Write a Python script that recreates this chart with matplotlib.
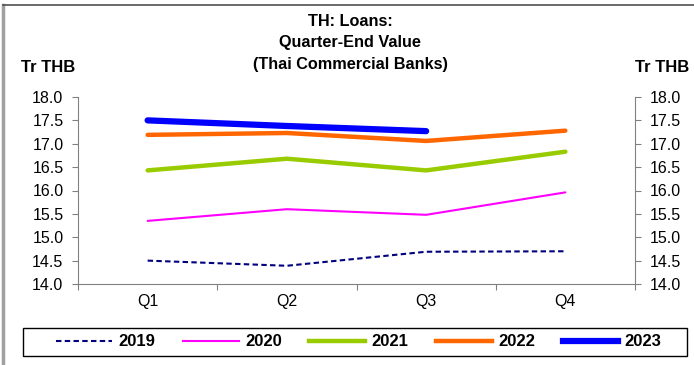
import matplotlib
matplotlib.use("Agg")
import matplotlib.pyplot as plt
from matplotlib.lines import Line2D
from matplotlib.patches import Rectangle
import numpy as np

plt.rcParams['font.family'] = ['Liberation Sans', 'DejaVu Sans']

quarters = ["Q1", "Q2", "Q3", "Q4"]
years = ["2019", "2020", "2021", "2022", "2023"]
v2019 = [14.50, 14.39, 14.69, 14.70]
v2020 = [15.35, 15.60, 15.48, 15.96]
v2021 = [16.43, 16.68, 16.43, 16.83]
v2022 = [17.19, 17.23, 17.06, 17.28]
v2023 = [17.50, 17.38, 17.27]
yticks = [14.0, 14.5, 15.0, 15.5, 16.0, 16.5, 17.0, 17.5, 18.0]

series = [v2019, v2020, v2021, v2022, v2023]
colors = ["#000080", "#FF00FF", "#99CC00", "#FF6600", "#0000FF"]
widths = [1.5, 1.5, 3.2, 3.2, 4.5]
styles = [(0, (2.6, 1.6)), "-", "-", "-", "-"]

W, H = 694, 365
fig = plt.figure(figsize=(W/100, H/100), dpi=100)
ax = fig.add_axes([78/W, 1-284/H, (635-78)/W, (284-97)/H])

for vals, c, w, s, lab in zip(series, colors, widths, styles, years):
    x = np.arange(len(vals)) + 0.5
    ax.plot(x, vals, color=c, lw=w, ls=s, label=lab, solid_capstyle='round',
            dash_capstyle='butt')

ax.set_xlim(0, 4)
ax.set_ylim(14.0, 18.0)
ax.set_yticks(yticks)
ax.set_yticklabels([f"{t:.1f}" for t in yticks], fontsize=11.5)
ax.set_xticks([0, 1, 2, 3, 4])
ax.set_xticklabels([])
ax.set_xticks(np.arange(4) + 0.5, minor=True)
ax.set_xticklabels(quarters, minor=True, fontsize=11.5)
ax.tick_params(axis='x', which='minor', length=0, pad=7)
ax.tick_params(axis='x', which='major', length=4, color='#808080', direction='out')
ax.tick_params(axis='y', length=4.5, color='#808080', direction='out', pad=6)
for sp in ['top', 'right']:
    ax.spines[sp].set_visible(False)
for sp in ['left', 'bottom']:
    ax.spines[sp].set_color('#808080')

ax2 = ax.twinx()
ax2.set_ylim(14.0, 18.0)
ax2.set_yticks(yticks)
ax2.set_yticklabels([f"{t:.1f}" for t in yticks], fontsize=11.5)
ax2.tick_params(axis='y', length=4.5, color='#808080', direction='out', pad=6)
for sp in ['top', 'left', 'bottom']:
    ax2.spines[sp].set_visible(False)
ax2.spines['right'].set_color('#808080')

tfs = 11.7
fig.text(350/W, 1-21/H, "TH: Loans:", ha='center', va='center', fontsize=tfs, fontweight='bold')
fig.text(350/W, 1-43/H, "Quarter-End Value", ha='center', va='center', fontsize=tfs, fontweight='bold')
fig.text(350/W, 1-64/H, "(Thai Commercial Banks)", ha='center', va='center', fontsize=tfs, fontweight='bold')
fig.text(48/W, 1-67/H, "Tr THB", ha='center', va='center', fontsize=12, fontweight='bold')
fig.text(662/W, 1-67/H, "Tr THB", ha='center', va='center', fontsize=12, fontweight='bold')

handles = [Line2D([0], [0], color=c, lw=w, ls=s) for c, w, s in zip(colors, widths, styles)]
leg = fig.legend(handles, years, loc='center', bbox_to_anchor=(359/W, 1-342/H),
                 ncol=5, frameon=False,
                 prop={'weight': 'bold', 'size': 12}, handlelength=3.35, columnspacing=1.65,
                 handletextpad=0.38, borderpad=0.2)
fig.add_artist(Rectangle((23/W, 1-356/H), (687-23)/W, (356-328)/H, transform=fig.transFigure,
                         fill=False, edgecolor='black', lw=1.0))

fig.add_artist(Line2D([3/W, 3/W], [0, 1-5/H], color='#A0A0A0', lw=2.5, transform=fig.transFigure))
fig.add_artist(Line2D([3/W, 1], [1-5/H, 1-5/H], color='#505050', lw=1.2, transform=fig.transFigure))

fig.savefig("out.png", dpi=100)
